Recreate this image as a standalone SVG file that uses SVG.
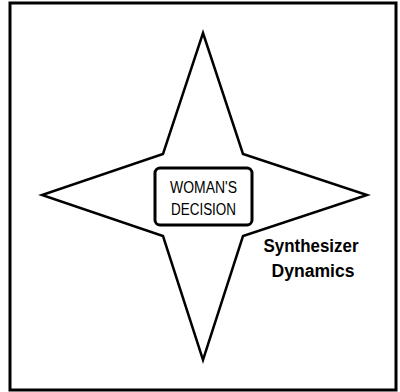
<svg xmlns="http://www.w3.org/2000/svg" width="400" height="392" viewBox="0 0 400 392">
<style>
.ln{fill:none;stroke:#000;stroke-linejoin:miter}
.t{font-family:"Liberation Sans",Arial,sans-serif;fill:#000;text-anchor:middle}
</style>
<rect width="400" height="392" fill="#fff"/>
<rect class="ln" x="10" y="3" width="386" height="387" stroke-width="3"/>
<g id="star">
<polygon class="ln" stroke-width="2.5" points="203,33 243,154 367,195 243,236 203,360 163,236 42,195 163,154"/>
</g>
<g id="decision">
<rect x="155" y="168" width="97" height="57" rx="5" fill="#fff" stroke="#000" stroke-width="3"/>
<text class="t" x="203.5" y="193" font-size="16" textLength="67" lengthAdjust="spacingAndGlyphs">WOMAN'S</text>
<text class="t" x="203.5" y="215" font-size="16" textLength="65" lengthAdjust="spacingAndGlyphs">DECISION</text>
</g>
<g id="title">
<text class="t" x="311" y="252" font-size="18" font-weight="bold" textLength="95" lengthAdjust="spacingAndGlyphs">Synthesizer</text>
<text class="t" x="313" y="277" font-size="18" font-weight="bold" textLength="83" lengthAdjust="spacingAndGlyphs">Dynamics</text>
</g>
</svg>
